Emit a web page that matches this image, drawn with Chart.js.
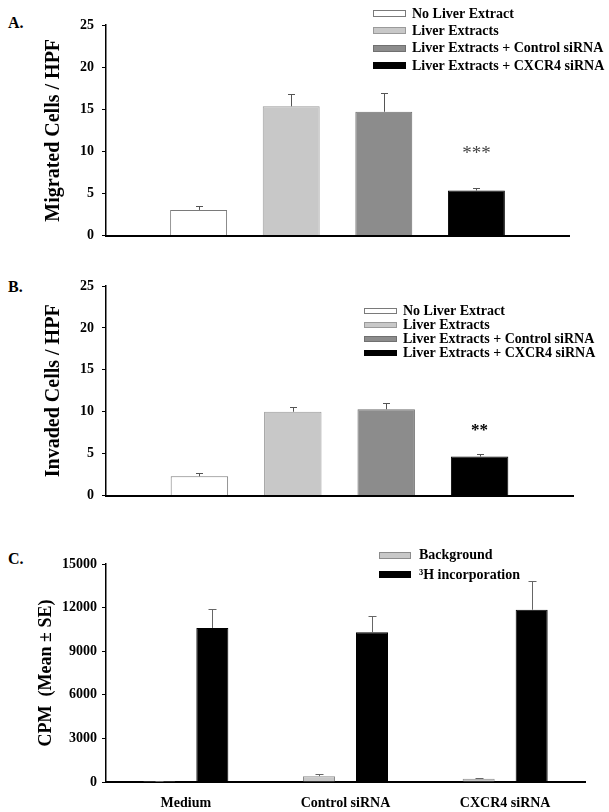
<!DOCTYPE html>
<html>
<head>
<meta charset="utf-8">
<script src="https://cdn.jsdelivr.net/npm/chart.js@4.4.1/dist/chart.umd.min.js"></script>
<style>
  body { margin: 0; background: #fff; width: 609px; height: 812px; position: relative; overflow: hidden; }
  canvas { position: absolute; left: 0; }
  .tag { position: absolute; left: 8px; font: bold 16px "Liberation Serif", "Times New Roman", serif; line-height: 16px; }
</style>
</head>
<body>
<div class="tag" style="top:15px">A.</div>
<div class="tag" style="top:279px">B.</div>
<div class="tag" style="top:551px">C.</div>
<canvas id="chartA" width="609" height="252" style="top:0"></canvas>
<canvas id="chartB" width="609" height="252" style="top:260px"></canvas>
<canvas id="chartC" width="609" height="272" style="top:540px"></canvas>
<script>
const groups = ['No Liver Extract', 'Liver Extracts', 'Liver Extracts + Control siRNA', 'Liver Extracts + CXCR4 siRNA']
const migrated = [3.05, 15.35, 14.7, 5.35]
const migratedErr = [0.5, 1.45, 2.2, 0.3]
const invaded = [2.3, 10.0, 10.3, 4.65]
const invadedErr = [0.35, 0.6, 0.7, 0.35]
const cellTicks = [0, 5, 10, 15, 20, 25]

const treatments = ['Medium', 'Control siRNA', 'CXCR4 siRNA']
const background = [70, 400, 230]
const backgroundErr = [20, 120, 70]
const incorporation = [10600, 10300, 11850]
const incorporationErr = [1300, 1150, 1950]
const cpmTicks = [0, 3000, 6000, 9000, 12000, 15000]

const fills = ['#ffffff', '#c8c8c8', '#8c8c8c', '#000000']
const edges = ['#7a7a7a', '#9a9a9a', '#707070', '#000000']

Chart.defaults.font.family = '"Liberation Serif", "Times New Roman", serif'
Chart.defaults.font.weight = 'bold'
Chart.defaults.color = '#000'

// upward-only error whiskers with a small cap
const errorBars = {
    id: 'errorBars',
    afterDatasetsDraw(chart, args, opts) {
        const ctx = chart.ctx
        const y = chart.scales.y
        chart.data.datasets.forEach((ds, i) => {
            if (!ds.errors) return
            chart.getDatasetMeta(i).data.forEach((bar, j) => {
                const v = ds.data[j], e = ds.errors[j]
                if (v == null || e == null) return
                const top = Math.round(y.getPixelForValue(v + e)) + 0.5
                const x = Math.round(bar.x) + 0.5
                ctx.save()
                ctx.strokeStyle = opts.color
                ctx.lineWidth = 1
                ctx.beginPath()
                ctx.moveTo(x, bar.y)
                ctx.lineTo(x, top)
                ctx.moveTo(x - opts.cap / 2, top)
                ctx.lineTo(x + opts.cap / 2, top)
                ctx.stroke()
                ctx.restore()
            })
        })
    }
}

// legend stacked one per row, placed freely over the plot
const boxLegend = {
    id: 'boxLegend',
    afterDraw(chart, args, o) {
        const ctx = chart.ctx
        ctx.save()
        ctx.font = 'bold ' + o.size + 'px "Liberation Serif", "Times New Roman", serif'
        ctx.textBaseline = 'middle'
        chart.data.datasets.forEach((ds, i) => {
            const y = o.y + i * o.rowHeight
            const top = Math.round(y - o.boxHeight / 2) + 0.5
            ctx.fillStyle = ds.backgroundColor
            ctx.fillRect(o.x + 0.5, top, o.boxWidth, o.boxHeight)
            ctx.strokeStyle = ds.borderColor
            ctx.lineWidth = 1
            ctx.strokeRect(o.x + 0.5, top, o.boxWidth, o.boxHeight)
            ctx.fillStyle = '#000'
            ctx.fillText(ds.label, o.x + o.boxWidth + o.gap, y + 1)
        })
        ctx.restore()
    }
}

const stars = {
    id: 'stars',
    afterDatasetsDraw(chart, args, o) {
        if (!o.text) return
        const ctx = chart.ctx
        const x = chart.scales.x.getPixelForValue(o.index)
        const y = chart.scales.y.getPixelForValue(o.value)
        ctx.save()
        ctx.font = o.font
        ctx.fillStyle = o.color
        ctx.textAlign = 'center'
        ctx.textBaseline = 'alphabetic'
        ctx.fillText(o.text, x, y + o.size * 0.55)
        ctx.restore()
    }
}

function yAxis(title, size, pad, ticks, tickPad) {
    return {
        min: ticks[0],
        max: ticks[ticks.length - 1],
        afterBuildTicks: s => { s.ticks = ticks.map(v => ({ value: v })) },
        grid: { drawOnChartArea: false, tickLength: 4, color: '#000' },
        border: { color: '#000', width: 1.5 },
        ticks: {
            padding: tickPad,
            color: '#000',
            font: { size: 14, weight: 'bold' },
            callback: v => String(v)
        },
        title: { display: true, text: title, color: '#000', font: { size: size, weight: 'bold' }, padding: { top: pad, bottom: 0 } },
        afterFit: s => { s.width = 106 }
    }
}

function groupChart(id, values, errs, yTitle, titleSize, titlePad, padding, legend, star) {
    const slots = ['', ...groups, '']
    const datasets = groups.map((g, i) => {
        const data = slots.map(() => null)
        const errors = slots.map(() => null)
        data[i + 1] = values[i]
        errors[i + 1] = errs[i]
        return {
            label: g,
            data: data,
            errors: errors,
            backgroundColor: fills[i],
            borderColor: edges[i],
            borderWidth: 1,
            grouped: false,
            barPercentage: 0.615,
            categoryPercentage: 1
        }
    })
    return new Chart(document.getElementById(id), {
        type: 'bar',
        data: { labels: slots, datasets: datasets },
        options: {
            responsive: false,
            animation: false,
            layout: { padding: padding },
            scales: {
                x: {
                    offset: false,
                    grid: { display: false },
                    ticks: { display: false },
                    border: { color: '#000', width: 2 },
                    afterFit: s => { s.height = 0 }
                },
                y: yAxis(yTitle, titleSize, titlePad, cellTicks, 8)
            },
            plugins: {
                legend: { display: false },
                tooltip: { enabled: false },
                errorBars: { color: '#555', cap: 7 },
                boxLegend: legend,
                stars: star
            }
        },
        plugins: [errorBars, boxLegend, stars]
    })
}

groupChart('chartA', migrated, migratedErr, 'Migrated Cells / HPF', 20, 42,
    { top: 25, right: 40, bottom: 15, left: 0 },
    { x: 373, y: 13, rowHeight: 17.3, boxWidth: 32, boxHeight: 6, gap: 7, size: 14 },
    { text: '***', index: 4, value: 10.3, size: 19, font: '19px "Liberation Serif", serif', color: '#444' })

groupChart('chartB', invaded, invadedErr, 'Invaded Cells / HPF', 20, 42,
    { top: 26, right: 36, bottom: 12, left: 0 },
    { x: 364, y: 50.7, rowHeight: 13.9, boxWidth: 32, boxHeight: 5, gap: 7, size: 14 },
    { text: '**', index: 4, value: 8.3, size: 17, font: 'bold 17px "Liberation Serif", serif', color: '#000' })

new Chart(document.getElementById('chartC'), {
    type: 'bar',
    data: {
        labels: treatments,
        datasets: [
            {
                label: 'Background',
                data: background,
                errors: backgroundErr,
                backgroundColor: '#c8c8c8',
                borderColor: '#8c8c8c',
                borderWidth: 1,
                barPercentage: 0.604,
                categoryPercentage: 0.664
            },
            {
                label: '\u00b3H incorporation',
                data: incorporation,
                errors: incorporationErr,
                backgroundColor: '#000000',
                borderColor: '#000000',
                borderWidth: 1,
                barPercentage: 0.604,
                categoryPercentage: 0.664
            }
        ]
    },
    options: {
        responsive: false,
        animation: false,
        layout: { padding: { top: 24, right: 24, bottom: 0, left: 0 } },
        scales: {
            x: {
                grid: { display: false },
                ticks: { padding: 5, color: '#000', font: { size: 14, weight: 'bold' } },
                border: { color: '#000', width: 2 },
                afterFit: s => { s.height = 30 }
            },
            y: yAxis('CPM  (Mean \u00b1 SE)', 18, 36, cpmTicks, 5)
        },
        plugins: {
            legend: { display: false },
            tooltip: { enabled: false },
            errorBars: { color: '#666', cap: 8 },
            boxLegend: { x: 379, y: 14.7, rowHeight: 19.6, boxWidth: 31, boxHeight: 6, gap: 9, size: 14 },
            stars: false
        }
    },
    plugins: [errorBars, boxLegend, stars]
})
</script>
</body>
</html>
